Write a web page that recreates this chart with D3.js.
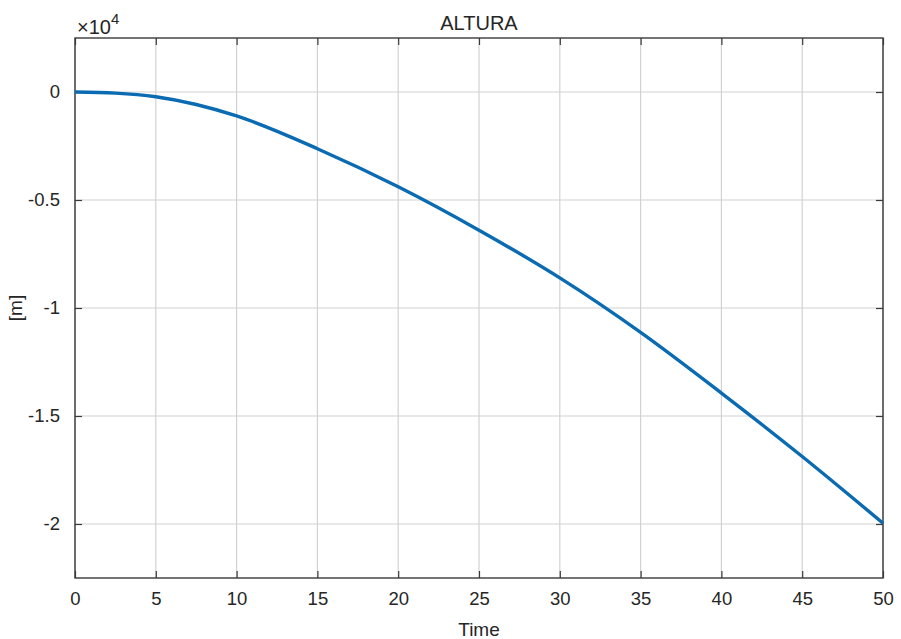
<!DOCTYPE html>
<html>
<head>
<meta charset="utf-8">
<script src="https://cdn.jsdelivr.net/npm/d3@7"></script>
<style>
  html, body { margin: 0; padding: 0; background: #fff; }
  svg { display: block; }
  text { font-family: "Liberation Sans", Arial, Helvetica, sans-serif; fill: #262626; }
</style>
</head>
<body>
<svg id="chart" width="901" height="639"></svg>
<script>
// Altitude over time (metres)
const timeValues = [0, 2.5, 5, 7.5, 10, 15, 20, 25, 30, 35, 40, 45, 50];
const alturaValues = [0, -50, -220, -580, -1110, -2625, -4390, -6400, -8605, -11127, -13937, -16876, -19963];

const xTicks = [0, 5, 10, 15, 20, 25, 30, 35, 40, 45, 50];
const yTicks = [0, -5000, -10000, -15000, -20000];
const yTickLabels = ["0", "-0.5", "-1", "-1.5", "-2"];
const yExponent = "4";

const titleText = "ALTURA";
const xLabelText = "Time";
const yLabelText = "[m]";

const svg = d3.select("#chart");
const margin = { left: 75, right: 18, top: 38, bottom: 61 };
const W = 901, H = 639;
const plotW = W - margin.left - margin.right;
const plotH = H - margin.top - margin.bottom;

const x = d3.scaleLinear().domain([0, 50]).range([margin.left, margin.left + plotW]);
const y = d3.scaleLinear().domain([-22500, 2500]).range([margin.top + plotH, margin.top]);

const axisColor = "#3a3a3a";
const gridColor = "#d2d2d2";
const tickLen = 7;

// grid lines
const grid = svg.append("g");
grid.selectAll("line.vx").data(xTicks).join("line")
  .attr("x1", d => x(d)).attr("x2", d => x(d))
  .attr("y1", y.range()[0]).attr("y2", y.range()[1])
  .attr("stroke", gridColor).attr("stroke-width", 1.2);
grid.selectAll("line.hy").data(yTicks).join("line")
  .attr("y1", d => y(d)).attr("y2", d => y(d))
  .attr("x1", x.range()[0]).attr("x2", x.range()[1])
  .attr("stroke", gridColor).attr("stroke-width", 1.2);

// bottom & left axes with inward ticks
const xAxis = d3.axisBottom(x).tickValues(xTicks).tickSizeInner(-tickLen).tickSizeOuter(0).tickPadding(14)
  .tickFormat(d3.format("d"));
svg.append("g").attr("transform", `translate(0,${y.range()[0]})`).call(xAxis);
const yAxis = d3.axisLeft(y).tickValues(yTicks).tickSizeInner(-tickLen).tickSizeOuter(0).tickPadding(15)
  .tickFormat((d, i) => yTickLabels[i]);
svg.append("g").attr("transform", `translate(${x.range()[0]},0)`).call(yAxis);

// top & right ticks (box)
const xTop = d3.axisTop(x).tickValues(xTicks).tickSizeInner(-tickLen).tickSizeOuter(0).tickFormat("");
svg.append("g").attr("transform", `translate(0,${y.range()[1]})`).call(xTop);
const yRight = d3.axisRight(y).tickValues(yTicks).tickSizeInner(-tickLen).tickSizeOuter(0).tickFormat("");
svg.append("g").attr("transform", `translate(${x.range()[1]},0)`).call(yRight);

svg.selectAll(".domain").remove();
svg.selectAll(".tick line").attr("stroke", axisColor).attr("stroke-width", 1.2);
svg.selectAll(".tick text").attr("font-size", 18.5).attr("fill", "#262626")
  .style("font-family", "'Liberation Sans', Arial, sans-serif");

// box frame
svg.append("rect")
  .attr("x", x.range()[0]).attr("y", y.range()[1])
  .attr("width", plotW).attr("height", plotH)
  .attr("fill", "none").attr("stroke", axisColor).attr("stroke-width", 1.4);

// data line
const line = d3.line()
  .x((d, i) => x(timeValues[i]))
  .y(d => y(d))
  .curve(d3.curveMonotoneX);
svg.append("path")
  .datum(alturaValues)
  .attr("d", line)
  .attr("fill", "none")
  .attr("stroke", "#0a6bb2")
  .attr("stroke-width", 3.4)
  .attr("stroke-linejoin", "round");

// title
svg.append("text")
  .attr("x", (x.range()[0] + x.range()[1]) / 2).attr("y", 30)
  .attr("text-anchor", "middle").attr("font-size", 20)
  .text(titleText);

// x label
svg.append("text")
  .attr("x", (x.range()[0] + x.range()[1]) / 2).attr("y", 636)
  .attr("text-anchor", "middle").attr("font-size", 19)
  .text(xLabelText);

// y label (rotated)
svg.append("text")
  .attr("transform", `translate(22,${(y.range()[0] + y.range()[1]) / 2}) rotate(-90)`)
  .attr("text-anchor", "middle").attr("font-size", 19)
  .text(yLabelText);

// exponent marker
const expText = svg.append("text").attr("x", 77).attr("y", 34).attr("font-size", 20);
expText.append("tspan").text("\u00d710");
expText.append("tspan").attr("dy", -10).attr("font-size", 15).text(yExponent);
</script>
</body>
</html>
